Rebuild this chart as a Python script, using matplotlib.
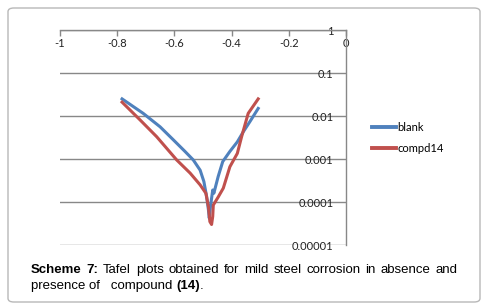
import matplotlib
matplotlib.use("Agg")
import matplotlib.pyplot as plt
from matplotlib.patches import FancyBboxPatch

# Data
blank_E = [-0.783, -0.709, -0.650, -0.604, -0.563, -0.534, -0.510, -0.497, -0.487, -0.481,
           -0.478, -0.474, -0.466, -0.462, -0.447, -0.431, -0.406, -0.380, -0.359, -0.336, -0.307]
blank_I = [0.025, 0.0115, 0.0056, 0.0028, 0.0015, 0.00095, 0.00055, 0.0003, 0.00013, 0.000065,
           0.000042, 0.000078, 0.00019, 0.00016, 0.00039, 0.00087, 0.0015, 0.0025, 0.0043, 0.0074, 0.015]
comp_E = [-0.783, -0.720, -0.662, -0.592, -0.545, -0.510, -0.490, -0.481, -0.476, -0.470,
          -0.466, -0.464, -0.447, -0.429, -0.406, -0.380, -0.365, -0.342, -0.307]
comp_I = [0.021, 0.0081, 0.0033, 0.00095, 0.00047, 0.00025, 0.00016, 0.000078, 0.000035, 0.00003,
          0.000046, 0.000085, 0.00013, 0.00021, 0.00066, 0.00135, 0.0033, 0.0115, 0.025]
x_ticks = [-1, -0.8, -0.6, -0.4, -0.2, 0]
x_labels = ["-1", "-0.8", "-0.6", "-0.4", "-0.2", "0"]
y_ticks = [1e-5, 1e-4, 1e-3, 1e-2, 1e-1, 1]
y_labels = ["0.00001", "0.0001", "0.001", "0.01", "0.1", "1"]
series_names = ["blank", "compd14"]
colors = ["#4F81BD", "#C0504D"]

W, H = 488, 306
fig = plt.figure(figsize=(W / 100, H / 100), dpi=100)
fig.patch.set_facecolor("white")

# rounded border
border = FancyBboxPatch((8 / W, 4 / H), 472 / W, 294 / H,
                        boxstyle="round,pad=0,rounding_size=0.012",
                        transform=fig.transFigure, facecolor="none",
                        edgecolor="#b8b8b8", lw=1.0)
fig.patches.append(border)

ax = fig.add_axes([60 / W, 1 - 245 / H, 286 / W, 215 / H])
ax.set_yscale("log")
ax.set_xlim(-1, 0)
ax.set_ylim(1e-5, 1)

ax.plot(blank_E, blank_I, color=colors[0], lw=2.2, label=series_names[0], solid_joinstyle="round")
ax.plot(comp_E, comp_I, color=colors[1], lw=2.2, label=series_names[1], solid_joinstyle="round")

tick_font = "Lato"
ax.set_xticks(x_ticks)
ax.set_xticklabels(x_labels, fontsize=8, family=tick_font, color="#222222")
ax.xaxis.set_ticks_position("top")
ax.tick_params(axis="x", direction="in", length=4, width=1, color="#888888", pad=-14)

ax.set_yticks(y_ticks)
ax.set_yticklabels(y_labels, fontsize=8, family=tick_font, color="#222222")
ax.yaxis.set_minor_locator(matplotlib.ticker.NullLocator())
ax.yaxis.set_ticks_position("right")
ax.tick_params(axis="y", direction="in", length=0, pad=-9)
for lab in ax.get_yticklabels():
    lab.set_horizontalalignment("right")

ax.grid(axis="y", color="#888888", lw=1.0)
ax.set_axisbelow(True)
for s in ["left", "bottom"]:
    ax.spines[s].set_visible(False)
for s in ["top", "right"]:
    ax.spines[s].set_color("#888888")
    ax.spines[s].set_linewidth(1.0)

leg = fig.legend(loc="center left", bbox_to_anchor=(362 / W, 1 - 138 / H),
                 frameon=False, handlelength=2.2, handletextpad=0.1,
                 labelspacing=0.85, prop={"family": tick_font, "size": 8})
for line in leg.get_lines():
    line.set_linewidth(2.8)

# Caption (justified first line)
cap_font = "Liberation Sans"
cap_size = 9.5
renderer = fig.canvas.get_renderer()
line1 = [("Scheme", True), ("7:", True), ("Tafel", False), ("plots", False), ("obtained", False),
         ("for", False), ("mild", False), ("steel", False), ("corrosion", False), ("in", False),
         ("absence", False), ("and", False)]
x0, x1 = 31 / W, 457 / W
y1 = 1 - 270 / H
texts = []
widths = []
for w, b in line1:
    t = fig.text(0, y1, w, fontsize=cap_size, family=cap_font,
                 fontweight="bold" if b else "normal", va="center", ha="left")
    bb = t.get_window_extent(renderer)
    texts.append(t)
    widths.append(bb.width / W)
gap = (x1 - x0 - sum(widths)) / (len(line1) - 1)
xc = x0
for t, wd in zip(texts, widths):
    t.set_x(xc)
    xc += wd + gap

y2 = 1 - 286 / H
t1 = fig.text(x0, y2, "presence of   compound ", fontsize=cap_size, family=cap_font, va="center", ha="left")
bb = t1.get_window_extent(renderer)
t2 = fig.text(x0 + bb.width / W, y2, "(14)", fontsize=cap_size, family=cap_font,
              fontweight="bold", va="center", ha="left")
bb2 = t2.get_window_extent(renderer)
fig.text(x0 + (bb.width + bb2.width) / W, y2, ".", fontsize=cap_size, family=cap_font,
         va="center", ha="left")

fig.savefig("out.png", dpi=100)
